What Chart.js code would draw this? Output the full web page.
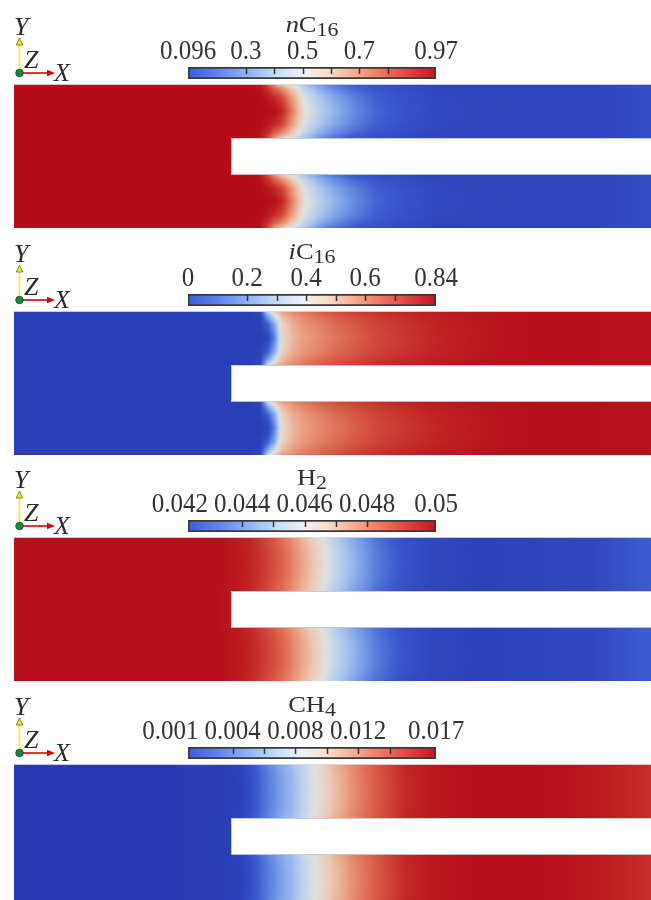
<!DOCTYPE html>
<html>
<head>
<meta charset="utf-8">
<script src="https://cdn.jsdelivr.net/npm/chart.js@4.4.0/dist/chart.umd.min.js"></script>
<style>
  html, body { margin: 0; padding: 0; background: #fff; }
  body { width: 651px; height: 900px; overflow: hidden; position: relative; }
  .panel { position: absolute; left: 0; width: 651px; height: 228px; }
  .panel canvas { position: absolute; left: 0; }
</style>
</head>
<body>
<script>
// channel geometry in mm (domain 88 x 20, insert from x=30, y=7.4..12.5)
const DOMAIN_L = 88;
const DOMAIN_H = 20;
const INSERT_X = 30;
const INSERT_Y0 = 7.4;
const INSERT_Y1 = 12.5;

// sample stations along x (mm)
const xPos = [0, 10, 20, 28, 31, 32.5, 34, 35, 36, 37, 38.5, 40, 42, 44, 47, 50, 54, 58, 64, 72, 80, 88];

// how far each channel row is between the wall profile (0) and the mid-channel profile (1)
const bulgeT = [0, 0.1, 0.25, 0.5, 0.75, 0.9, 1];
const bulgeW = [0, 0.4, 0.78, 1, 0.78, 0.4, 0];

// nC16
const nc16Range = [0.096, 0.97];
const nc16Ticks = [0.3, 0.4, 0.5, 0.6, 0.7, 0.8];
const nc16Labels = [0.096, 0.3, 0.5, 0.7, 0.97];
const nc16LabelText = ['0.096', '0.3', '0.5', '0.7', '0.97'];
const nc16Wall = [0.961, 0.961, 0.961, 0.961, 0.961, 0.961, 0.944, 0.839, 0.690, 0.594, 0.489, 0.411, 0.315, 0.245, 0.183, 0.157, 0.140, 0.131, 0.131, 0.131, 0.131, 0.157];
const nc16Center = [0.961, 0.961, 0.961, 0.961, 0.961, 0.961, 0.961, 0.961, 0.953, 0.909, 0.725, 0.533, 0.446, 0.376, 0.288, 0.218, 0.175, 0.148, 0.140, 0.131, 0.131, 0.157];

// iC16
const ic16Range = [0, 0.84];
const ic16Ticks = [0.2, 0.3, 0.4, 0.5, 0.6, 0.7];
const ic16Labels = [0, 0.2, 0.4, 0.6, 0.84];
const ic16LabelText = ['0', '0.2', '0.4', '0.6', '0.84'];
const ic16Wall = [0.017, 0.017, 0.017, 0.017, 0.017, 0.017, 0.042, 0.336, 0.487, 0.546, 0.596, 0.630, 0.664, 0.697, 0.731, 0.756, 0.781, 0.798, 0.815, 0.823, 0.823, 0.815];
const ic16Center = [0.017, 0.017, 0.017, 0.017, 0.017, 0.017, 0.017, 0.025, 0.168, 0.420, 0.504, 0.554, 0.588, 0.622, 0.664, 0.706, 0.739, 0.773, 0.806, 0.823, 0.823, 0.815];

// H2
const h2Range = [0.04227, 0.0502];
const h2Ticks = [0.044, 0.045, 0.046, 0.047, 0.048];
const h2Labels = [0.04227, 0.044, 0.046, 0.048, 0.0502];
const h2LabelText = ['0.042', '0.044', '0.046', '0.048', '0.05'];
const h2Wall = [0.05004, 0.05004, 0.05004, 0.05004, 0.04980, 0.04957, 0.04917, 0.04893, 0.04861, 0.04830, 0.04774, 0.04703, 0.04624, 0.04536, 0.04441, 0.04354, 0.04283, 0.04259, 0.04251, 0.04255, 0.04267, 0.04322];
const h2Center = [0.05004, 0.05004, 0.05004, 0.05004, 0.04988, 0.04964, 0.04933, 0.04909, 0.04885, 0.04853, 0.04798, 0.04735, 0.04655, 0.04568, 0.04473, 0.04378, 0.04298, 0.04267, 0.04251, 0.04255, 0.04267, 0.04322];

// CH4
const ch4Range = [0.00116, 0.01696];
const ch4Ticks = [0.004, 0.006, 0.008, 0.010, 0.012, 0.014];
const ch4Labels = [0.00116, 0.004, 0.008, 0.012, 0.01696];
const ch4LabelText = ['0.001', '0.004', '0.008', '0.012', '0.017'];
const ch4Wall = [0.00132, 0.00132, 0.00132, 0.0014, 0.00163, 0.0024, 0.00353, 0.00432, 0.00495, 0.00574, 0.00653, 0.0078, 0.00906, 0.01064, 0.01254, 0.01396, 0.0157, 0.01633, 0.01664, 0.01664, 0.01633, 0.01538];
const ch4Center = [0.00132, 0.00132, 0.00132, 0.0014, 0.00156, 0.00211, 0.00321, 0.004, 0.00464, 0.00543, 0.00622, 0.00748, 0.00874, 0.01017, 0.01222, 0.0138, 0.01554, 0.01633, 0.01664, 0.01664, 0.01633, 0.01538];

// cool-to-warm style map for the legend bar, and the darker lit version on the surface
const CMAP = [
  [0, [62, 92, 225]], [0.12, [95, 130, 238]], [0.24, [140, 178, 246]], [0.36, [196, 222, 250]],
  [0.47, [240, 242, 245]], [0.56, [248, 222, 202]], [0.68, [244, 168, 138]], [0.8, [234, 108, 86]],
  [0.91, [218, 58, 56]], [1, [200, 18, 36]]
];
const FIELD_CMAP = [
  [0, [38, 56, 175]], [0.12, [62, 92, 208]], [0.24, [112, 150, 228]], [0.36, [172, 200, 238]],
  [0.47, [222, 225, 224]], [0.56, [236, 202, 182]], [0.68, [233, 150, 120]], [0.8, [216, 92, 70]],
  [0.91, [196, 42, 40]], [1, [178, 8, 22]]
];
const SERIF = '"Liberation Serif", "Times New Roman", serif';

function lerpArr(ts, ws, t) {
  if (t <= ts[0]) return ws[0];
  for (let i = 1; i < ts.length; i++) {
    if (t <= ts[i]) {
      const f = (t - ts[i - 1]) / (ts[i] - ts[i - 1]);
      return ws[i - 1] + f * (ws[i] - ws[i - 1]);
    }
  }
  return ws[ws.length - 1];
}

function mapRgb(map, n) {
  n = Math.max(0, Math.min(1, n));
  for (let i = 1; i < map.length; i++) {
    if (n <= map[i][0]) {
      const f = (n - map[i - 1][0]) / (map[i][0] - map[i - 1][0]);
      const a = map[i - 1][1], b = map[i][1];
      return [0, 1, 2].map(k => Math.round(a[k] + f * (b[k] - a[k])));
    }
  }
  return map[map.length - 1][1];
}

function fieldColor(n) {
  return 'rgb(' + mapRgb(FIELD_CMAP, n).join(',') + ')';
}

function bulgeAt(yv) {
  let t;
  if (yv >= INSERT_Y1) t = (yv - INSERT_Y1) / (DOMAIN_H - INSERT_Y1);
  else if (yv <= INSERT_Y0) t = yv / INSERT_Y0;
  else return 0;
  return lerpArr(bulgeT, bulgeW, t);
}

const fieldPlugin = {
  id: 'field',
  beforeDatasetsDraw(chart, args, opts) {
    const { ctx, chartArea, scales: { x, y } } = chart;
    const [vmin, vmax] = opts.range;
    const xL = x.getPixelForValue(0), xR = x.getPixelForValue(DOMAIN_L);
    const rows = Math.round(chartArea.bottom - chartArea.top);
    ctx.save();
    for (let r = 0; r < rows; r++) {
      const py = chartArea.top + r;
      const w = bulgeAt(y.getValueForPixel(py + 0.5));
      const g = ctx.createLinearGradient(xL, 0, xR, 0);
      for (let i = 0; i < xPos.length; i++) {
        const v0 = opts.wall[i] + w * (opts.center[i] - opts.wall[i]);
        const steps = i < xPos.length - 1 ? 4 : 1;
        for (let k = 0; k < steps; k++) {
          let xv = xPos[i], v = v0;
          if (k > 0) {
            const v1 = opts.wall[i + 1] + w * (opts.center[i + 1] - opts.wall[i + 1]);
            xv = xPos[i] + (k / steps) * (xPos[i + 1] - xPos[i]);
            v = v0 + (k / steps) * (v1 - v0);
          }
          const off = (x.getPixelForValue(xv) - xL) / (xR - xL);
          g.addColorStop(Math.max(0, Math.min(1, off)), fieldColor((v - vmin) / (vmax - vmin)));
        }
      }
      ctx.fillStyle = g;
      ctx.fillRect(xL, py, xR - xL, 1);
    }
    // thin outline on the top boundary
    ctx.fillStyle = 'rgba(215,215,225,0.9)';
    ctx.fillRect(xL, chartArea.top, xR - xL, 1);
    // insert (solid plate)
    const ix = x.getPixelForValue(INSERT_X);
    const iy1 = y.getPixelForValue(INSERT_Y1), iy0 = y.getPixelForValue(INSERT_Y0);
    ctx.fillStyle = '#fff';
    ctx.fillRect(ix, iy1, xR - ix + 2, iy0 - iy1);
    ctx.strokeStyle = 'rgba(175,178,205,0.7)';
    ctx.lineWidth = 1;
    ctx.beginPath();
    ctx.moveTo(xR + 2, Math.round(iy1) + 0.5);
    ctx.lineTo(Math.round(ix) + 0.5, Math.round(iy1) + 0.5);
    ctx.lineTo(Math.round(ix) + 0.5, Math.round(iy0) - 0.5);
    ctx.lineTo(xR + 2, Math.round(iy0) - 0.5);
    ctx.stroke();
    ctx.restore();
  }
};

function drawTriad(ctx) {
  const ox = 19.5, oy = 73;
  ctx.save();
  ctx.lineWidth = 1.6;
  ctx.strokeStyle = '#f2f200';
  ctx.beginPath(); ctx.moveTo(ox, oy); ctx.lineTo(ox, 44); ctx.stroke();
  ctx.fillStyle = '#f2f200';
  ctx.strokeStyle = '#6a6a30';
  ctx.lineWidth = 0.8;
  ctx.beginPath(); ctx.moveTo(ox, 38); ctx.lineTo(ox - 3.2, 45); ctx.lineTo(ox + 3.2, 45); ctx.closePath(); ctx.fill(); ctx.stroke();
  ctx.strokeStyle = '#e00000';
  ctx.lineWidth = 1.6;
  ctx.beginPath(); ctx.moveTo(ox, oy); ctx.lineTo(48, oy); ctx.stroke();
  ctx.fillStyle = '#e00000';
  ctx.beginPath(); ctx.moveTo(55, oy); ctx.lineTo(47, oy - 3.2); ctx.lineTo(47, oy + 3.2); ctx.closePath(); ctx.fill();
  ctx.fillStyle = '#178a40';
  ctx.strokeStyle = '#0d4d24';
  ctx.lineWidth = 0.8;
  ctx.beginPath(); ctx.arc(ox, oy, 3.8, 0, Math.PI * 2); ctx.fill(); ctx.stroke();
  ctx.fillStyle = '#2b2b2b';
  ctx.font = 'italic 26px ' + SERIF;
  ctx.textAlign = 'left';
  ctx.textBaseline = 'alphabetic';
  ctx.fillText('Y', 14, 35);
  ctx.fillText('Z', 24, 68);
  ctx.fillText('X', 54, 81);
  ctx.restore();
}

function drawTitle(ctx, parts, cx, base) {
  const fonts = { italic: 'italic 23px ' + SERIF, '': '23px ' + SERIF, sub: '19px ' + SERIF };
  ctx.save();
  let total = 0;
  parts.forEach(([t, s]) => { ctx.font = fonts[s]; total += ctx.measureText(t).width; });
  ctx.translate(cx, base);
  ctx.scale(1.15, 1);
  ctx.fillStyle = '#2f2f2f';
  ctx.textAlign = 'left';
  let xx = -total / 2;
  parts.forEach(([t, s]) => {
    ctx.font = fonts[s];
    ctx.fillText(t, xx, s === 'sub' ? 4 : 0);
    xx += ctx.measureText(t).width;
  });
  ctx.restore();
}

const colorbarPlugin = {
  id: 'colorbar',
  afterDatasetsDraw(chart, args, opts) {
    const { ctx, chartArea, scales: { x } } = chart;
    ctx.save();
    // tick marks inside the bar
    ctx.strokeStyle = '#333';
    ctx.lineWidth = 1.5;
    opts.ticks.forEach(v => {
      const px = Math.round(x.getPixelForValue(v)) + 0.5;
      ctx.beginPath(); ctx.moveTo(px, chartArea.top + 1); ctx.lineTo(px, chartArea.top + 7); ctx.stroke();
    });
    // labels, slightly taller than the stock face
    ctx.font = '25px ' + SERIF;
    ctx.fillStyle = '#333';
    ctx.textAlign = 'center';
    ctx.textBaseline = 'alphabetic';
    const pos = opts.labels.map(v => x.getPixelForValue(v));
    const wid = opts.labelText.map(t => ctx.measureText(t).width);
    const gap = 6;
    if (pos[0] + wid[0] / 2 > pos[1] - wid[1] / 2 - gap) pos[0] = pos[1] - wid[1] / 2 - gap - wid[0] / 2;
    const base = chartArea.top - 8;
    opts.labelText.forEach((t, i) => {
      ctx.save();
      ctx.translate(pos[i], base);
      ctx.scale(1, 1.08);
      ctx.fillText(t, 0, 0);
      ctx.restore();
    });
    ctx.restore();
    drawTitle(ctx, opts.title, (chartArea.left + chartArea.right) / 2, 32);
    drawTriad(ctx);
  }
};

function barGradient(chart, range) {
  const { ctx, chartArea, scales } = chart;
  if (!chartArea || !scales.x) return '#ddd';
  const x0 = scales.x.getPixelForValue(range[0]), x1 = scales.x.getPixelForValue(range[1]);
  const g = ctx.createLinearGradient(x0, 0, x1, 0);
  CMAP.forEach(([t, c]) => g.addColorStop(t, 'rgb(' + c.join(',') + ')'));
  return g;
}

const panels = [
  { title: [['n', 'italic'], ['C', ''], ['16', 'sub']], range: nc16Range, ticks: nc16Ticks, labels: nc16Labels, labelText: nc16LabelText, wall: nc16Wall, center: nc16Center },
  { title: [['i', 'italic'], ['C', ''], ['16', 'sub']], range: ic16Range, ticks: ic16Ticks, labels: ic16Labels, labelText: ic16LabelText, wall: ic16Wall, center: ic16Center },
  { title: [['H', ''], ['2', 'sub']], range: h2Range, ticks: h2Ticks, labels: h2Labels, labelText: h2LabelText, wall: h2Wall, center: h2Center },
  { title: [['CH', ''], ['4', 'sub']], range: ch4Range, ticks: ch4Ticks, labels: ch4Labels, labelText: ch4LabelText, wall: ch4Wall, center: ch4Center }
];
const panelTops = [0, 227, 453, 680];

panels.forEach((p, i) => {
  const div = document.createElement('div');
  div.className = 'panel';
  div.style.top = panelTops[i] + 'px';
  const cb = document.createElement('canvas');
  cb.width = 651; cb.height = 84; cb.style.top = '0px';
  const fc = document.createElement('canvas');
  fc.width = 651; fc.height = 144; fc.style.top = '84px';
  div.appendChild(cb); div.appendChild(fc);
  document.body.appendChild(div);

  new Chart(cb, {
    type: 'bar',
    data: {
      labels: [''],
      datasets: [{
        data: [[p.range[0], p.range[1]]],
        backgroundColor: ctx => barGradient(ctx.chart, p.range),
        borderColor: '#3a3a3a',
        borderWidth: 2,
        borderSkipped: false,
        barPercentage: 1,
        categoryPercentage: 1
      }]
    },
    options: {
      indexAxis: 'y',
      responsive: false,
      animation: false,
      layout: { padding: { left: 188, right: 215, top: 67, bottom: 5 } },
      scales: {
        x: { type: 'linear', min: p.range[0], max: p.range[1], display: false },
        y: { display: false }
      },
      plugins: {
        legend: { display: false },
        tooltip: { enabled: false },
        colorbar: { ticks: p.ticks, labels: p.labels, labelText: p.labelText, title: p.title }
      }
    },
    plugins: [colorbarPlugin]
  });

  new Chart(fc, {
    type: 'scatter',
    data: { datasets: [] },
    options: {
      responsive: false,
      animation: false,
      layout: { padding: { left: 14, right: 0, top: 0, bottom: 0 } },
      scales: {
        x: { type: 'linear', min: 0, max: DOMAIN_L, display: false },
        y: { type: 'linear', min: 0, max: DOMAIN_H, display: false }
      },
      plugins: {
        legend: { display: false },
        tooltip: { enabled: false },
        field: { range: p.range, wall: p.wall, center: p.center }
      }
    },
    plugins: [fieldPlugin]
  });
});
</script>
</body>
</html>
